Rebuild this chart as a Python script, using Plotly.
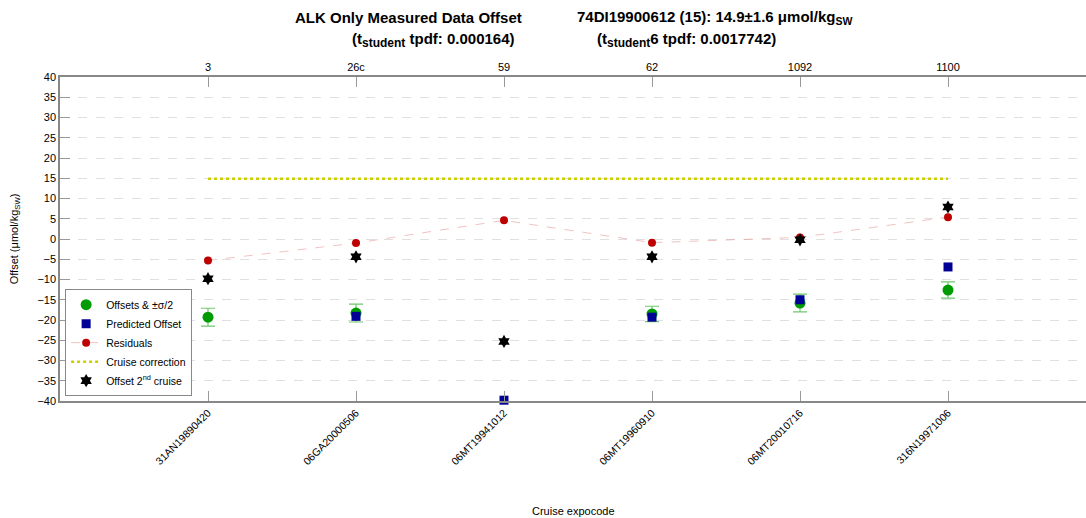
import plotly.graph_objects as go

# ---- data ----
cruises = ["31AN19890420", "06GA20000506", "06MT19941012", "06MT19960910", "06MT20010716", "316N19971006"]
cruise_ids = ["3", "26c", "59", "62", "1092", "1100"]
positions = [1, 2, 3, 4, 5, 6]
offsets = [-19.3, -18.3, None, -18.5, -15.8, -12.6]
offset_half_sigma = [2.2, 2.2, None, 1.9, 2.2, 2.0]
predicted = [None, -19.1, -39.8, -19.3, -15.0, -6.9]
residuals = [-5.3, -1.0, 4.6, -0.9, 0.4, 5.4]
offset_2nd = [-9.8, -4.4, -25.3, -4.4, -0.2, 7.9]
cruise_correction = 14.9
y_ticks = list(range(-40, 41, 5))

FONT = "Liberation Sans, Arial, Helvetica, sans-serif"

fig = go.Figure()

fig.add_trace(go.Scatter(
    x=positions, y=offsets, mode="markers", name="Offsets & ±σ/2",
    marker=dict(symbol="circle", size=11, color="rgb(0,155,0)"),
    error_y=dict(type="data", array=offset_half_sigma, visible=True,
                 color="rgb(110,200,110)", thickness=1.2, width=7),
    cliponaxis=False,
))
fig.add_trace(go.Scatter(
    x=positions, y=predicted, mode="markers", name="Predicted Offset",
    marker=dict(symbol="square", size=9, color="rgb(0,0,150)"),
    cliponaxis=False,
))
fig.add_trace(go.Scatter(
    x=positions, y=residuals, mode="lines+markers", name="Residuals",
    marker=dict(symbol="circle", size=8, color="rgb(190,0,0)"),
    line=dict(color="rgba(225,120,120,0.45)", width=1, dash="dash"),
))
fig.add_trace(go.Scatter(
    x=[positions[0], positions[-1]], y=[cruise_correction, cruise_correction],
    mode="lines", name="Cruise correction",
    line=dict(color="rgb(205,205,0)", width=2.5, dash="dot"),
))
fig.add_trace(go.Scatter(
    x=positions, y=offset_2nd, mode="markers", name="Offset 2<sup>nd</sup> cruise",
    marker=dict(symbol="hexagram", size=10, color="black"),
))
# invisible trace for top axis
fig.add_trace(go.Scatter(x=positions, y=[None]*6, xaxis="x2", showlegend=False,
                         hoverinfo="skip"))

xr = [0, 1026 / 148]
fig.update_layout(
    width=1086, height=518,
    margin=dict(l=60, r=0, t=77, b=117),
    paper_bgcolor="white", plot_bgcolor="white",
    font=dict(family=FONT, size=11, color="black"),
    showlegend=True,
    legend=dict(x=0.005, y=0.015, xanchor="left", yanchor="bottom",
                bgcolor="white", bordercolor="#888", borderwidth=1,
                font=dict(size=10.5), tracegroupgap=0, itemwidth=30,
                entrywidth=112, entrywidthmode="pixels"),
    xaxis=dict(range=xr, tickvals=positions, ticktext=cruises, tickangle=-45,
               ticks="inside", ticklen=10, tickcolor="#999", showgrid=False,
               showline=True, linecolor="#888", linewidth=1.5, zeroline=False,
               tickfont=dict(size=10.5)),
    xaxis2=dict(range=xr, tickvals=positions, ticktext=cruise_ids, overlaying="x",
                side="top", ticks="inside", ticklen=10, tickcolor="#999",
                showgrid=False, showline=True, linecolor="#888", linewidth=1.5,
                zeroline=False, tickfont=dict(size=11)),
    yaxis=dict(range=[-40, 40], tickvals=y_ticks, ticks="inside", ticklen=10,
               tickcolor="#999", showline=True, linecolor="#888", linewidth=1.5,
               showgrid=True, gridcolor="#e0e0e0", griddash="dash", gridwidth=1,
               zeroline=False,
               title=dict(text="Offset (μmol/kg<sub>SW</sub>)", font=dict(size=11),
                          standoff=17)),
)

def px(p):
    return (p - 60) / 1026

def py(p):
    return (401 - p) / 324

title_font = dict(family=FONT, size=15, color="black")
sub = "<sub><span style='font-size:12px'>student</span></sub>"
annos = [
    ("<b>ALK Only Measured Data Offset</b>", 293, 17),
    ("<b>74DI19900612 (15): 14.9±1.6 μmol/kg<sub>SW</sub></b>", 575, 17),
    ("<b>(t" + sub + " tpdf: 0.000164)</b>", 350, 40),
    ("<b>(t" + sub + "6 tpdf: 0.0017742)</b>", 595, 40),
]
for txt, x, y in annos:
    fig.add_annotation(text=txt, xref="paper", yref="paper", x=px(x), y=py(y),
                       xanchor="left", yanchor="middle", showarrow=False,
                       font=title_font)
fig.add_annotation(text="Cruise expocode", xref="paper", yref="paper",
                   x=px(573), y=py(511), xanchor="center", yanchor="middle",
                   showarrow=False, font=dict(family=FONT, size=11))

fig.write_html("out.html", config={"displayModeBar": False},
               post_script="document.body.style.margin='0';document.body.style.padding='0';")
